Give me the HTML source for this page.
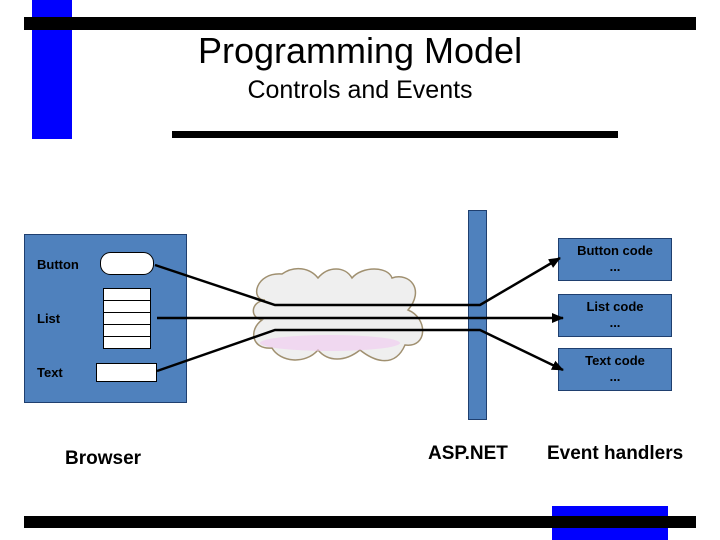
<!DOCTYPE html>
<html><head><style>
body{margin:0;width:720px;height:540px;background:#fff;position:relative;overflow:hidden;font-family:"Liberation Sans",sans-serif}
.a{position:absolute}
.b{font-weight:bold}
</style></head><body>
<div class="a" style="left:32px;top:0;width:40px;height:139px;background:#0000ff"></div>
<div class="a" style="left:24px;top:17px;width:672px;height:13px;background:#000"></div>
<div class="a" style="left:172px;top:131px;width:446px;height:7px;background:#000"></div>
<div class="a" style="left:0;top:30px;width:720px;text-align:center;font-size:36px;">Programming Model</div>
<div class="a" style="left:0;top:76px;width:720px;text-align:center;font-size:25px;">Controls and Events</div>
<div class="a" style="left:552px;top:506px;width:116px;height:34px;background:#0000ff"></div>
<div class="a" style="left:24px;top:516px;width:672px;height:12px;background:#000"></div>
<svg class="a" style="left:0;top:0" width="720" height="540">
<defs><marker id="ar" markerWidth="12" markerHeight="10" refX="11" refY="5" orient="auto" markerUnits="userSpaceOnUse"><path d="M0,0L12,5L0,10z"/></marker></defs>
<rect x="24.5" y="234.5" width="162" height="168" fill="#4f81bd" stroke="#1f3f6f"/>
<rect x="100.5" y="252.5" width="53" height="22" rx="10" fill="#fff" stroke="#000"/>
<g fill="#fff" stroke="#000"><rect x="103.5" y="288.5" width="47" height="12"/><rect x="103.5" y="300.5" width="47" height="12"/><rect x="103.5" y="312.5" width="47" height="12"/><rect x="103.5" y="324.5" width="47" height="12"/><rect x="103.5" y="336.5" width="47" height="12"/></g>
<rect x="96.5" y="363.5" width="60" height="18" fill="#fff" stroke="#000"/>
<path d="M265,300 C250,300 255,272 282,274 C295,265 310,268 318,278 C328,266 345,266 352,278 C362,266 388,266 392,278 C410,272 425,290 408,310 C428,318 428,348 405,345 C395,368 375,362 360,350 C345,362 328,362 318,350 C305,365 280,362 272,348 C252,350 248,330 262,320 C250,318 250,302 265,300z" fill="#efefef" stroke="#a09070" stroke-width="1.5"/>
<ellipse cx="330" cy="343" rx="70" ry="8" fill="#f0c8f0" opacity="0.6"/>
<rect x="468.5" y="210.5" width="18" height="209" fill="#4f81bd" stroke="#1f3f6f"/>
<g fill="#4f81bd" stroke="#1f3f6f"><rect x="558.5" y="238.5" width="113" height="42"/><rect x="558.5" y="294.5" width="113" height="42"/><rect x="558.5" y="348.5" width="113" height="42"/></g>
<g stroke="#000" stroke-width="2.5" fill="none">
<polyline points="155,265 275,305 480,305 560,258" marker-end="url(#ar)"/>
<polyline points="157,318 563,318" marker-end="url(#ar)"/>
<polyline points="157,371 275,330 480,330 563,370" marker-end="url(#ar)"/>
</g>
</svg>
<div class="a b" style="left:37px;top:257px;font-size:13px">Button</div>
<div class="a b" style="left:37px;top:311px;font-size:13px">List</div>
<div class="a b" style="left:37px;top:365px;font-size:13px">Text</div>
<div class="a b" style="left:558px;top:243px;width:114px;text-align:center;font-size:13px;line-height:16px">Button code<br>...</div>
<div class="a b" style="left:558px;top:299px;width:114px;text-align:center;font-size:13px;line-height:16px">List code<br>...</div>
<div class="a b" style="left:558px;top:353px;width:114px;text-align:center;font-size:13px;line-height:16px">Text code<br>...</div>
<div class="a b" style="left:65px;top:448px;font-size:19px">Browser</div>
<div class="a b" style="left:428px;top:443px;font-size:19px">ASP.NET</div>
<div class="a b" style="left:547px;top:443px;font-size:19px">Event handlers</div>
</body></html>
